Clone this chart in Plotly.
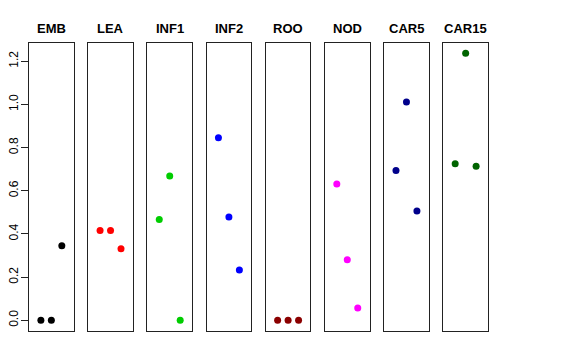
import plotly.graph_objects as go

groups = ["EMB", "LEA", "INF1", "INF2", "ROO", "NOD", "CAR5", "CAR15"]
colors = ["#000000", "#FF0000", "#00CD00", "#0000FF", "#8B0000", "#FF00FF", "#00008B", "#006400"]
values = [
    [0.0, 0.0, 0.345],
    [0.416, 0.416, 0.332],
    [0.467, 0.668, 0.0],
    [0.846, 0.478, 0.233],
    [0.0, 0.0, 0.0],
    [0.631, 0.280, 0.057],
    [0.694, 1.011, 0.506],
    [0.725, 1.237, 0.714],
]
positions = [1, 2, 3]
yticks = [0.0, 0.2, 0.4, 0.6, 0.8, 1.0, 1.2]
yticklabels = ["0.0", "0.2", "0.4", "0.6", "0.8", "1.0", "1.2"]

# page body has an 8px default margin, so the figure is drawn 8px in
W, H = 568, 352
ml, mr, mt, mb = 21, 88, 35, 29
pw = W - ml - mr
n = len(groups)
panel_w = 44.7
gap = (pw - n * panel_w) / (n - 1)

fig = go.Figure()
font_family = "Liberation Sans, Arial, Helvetica, sans-serif"
ymin, ymax = -0.0494, 1.2844

for i, (g, c, v) in enumerate(zip(groups, colors, values)):
    x0 = (i * (panel_w + gap)) / pw
    x1 = (i * (panel_w + gap) + panel_w) / pw
    xa = "xaxis" if i == 0 else f"xaxis{i+1}"
    ya = "yaxis" if i == 0 else f"yaxis{i+1}"
    xr = "x" if i == 0 else f"x{i+1}"
    yr = "y" if i == 0 else f"y{i+1}"
    fig.add_trace(go.Scatter(
        x=positions, y=v, mode="markers",
        marker=dict(color=c, size=7, line=dict(width=0)),
        xaxis=xr, yaxis=yr, showlegend=False, hoverinfo="y",
    ))
    fig.layout[xa] = dict(
        domain=[x0, x1], range=[-0.135, 4.135], showgrid=False, zeroline=False,
        showticklabels=False, ticks="", showline=True, mirror=True,
        linecolor="#222222", linewidth=1, anchor=yr, fixedrange=True,
        automargin=False,
    )
    yd = dict(
        domain=[0, 1], range=[ymin, ymax], showgrid=False, zeroline=False,
        showline=True, mirror=True, linecolor="#222222", linewidth=1,
        anchor=xr, fixedrange=True, automargin=False,
    )
    if i == 0:
        yd.update(tickmode="array", tickvals=yticks, ticktext=yticklabels,
                  ticks="outside", ticklen=7, tickcolor="#222222",
                  ticklabelstandoff=-2,
                  tickangle=-90, tickfont=dict(family=font_family, size=12, color="#000000"),
                  showticklabels=True)
    else:
        yd.update(showticklabels=False, ticks="")
    fig.layout[ya] = yd
    fig.add_annotation(
        x=(x0 + x1) / 2, y=1, xref="paper", yref="paper",
        xanchor="center", yanchor="bottom", yshift=5,
        text=f"<b>{g}</b>", showarrow=False,
        font=dict(family=font_family, size=13, color="#000000"),
    )

fig.update_layout(
    width=W, height=H,
    margin=dict(l=ml, r=mr, t=mt, b=mb, autoexpand=False),
    plot_bgcolor="white", paper_bgcolor="white",
)

fig.write_html("out.html")
